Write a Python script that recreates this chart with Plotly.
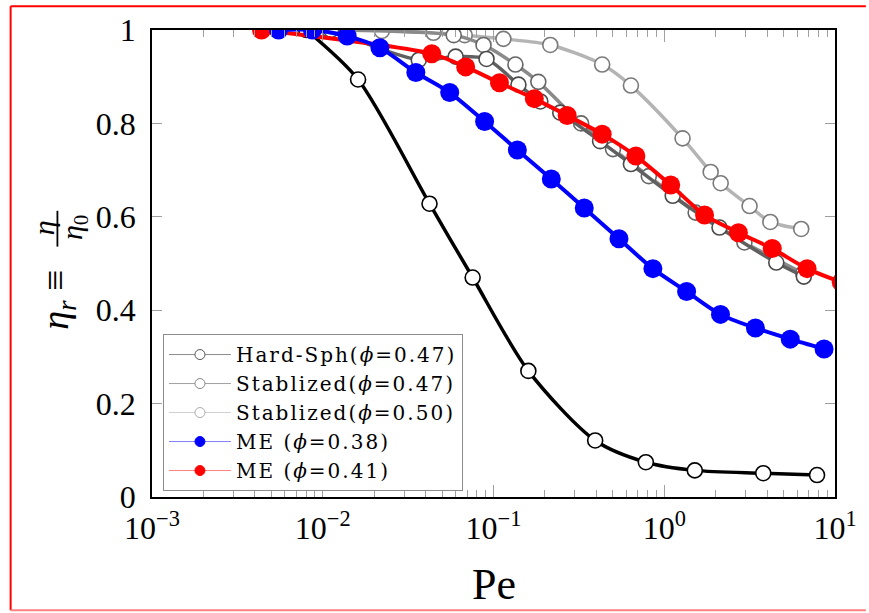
import plotly.graph_objects as go

# ---- data: reduced viscosity eta_r versus Peclet number ----
pe_curve = [0.0080, 0.0161, 0.0422, 0.0755, 0.160, 0.394, 0.780, 1.51, 3.80, 7.85]
eta_curve = [1.000, 0.894, 0.628, 0.470, 0.270, 0.121, 0.0745, 0.057, 0.051, 0.047]

pe_hs47 = [0.0112, 0.0365, 0.060, 0.091, 0.140, 0.188, 0.246, 0.421, 0.638, 1.121, 2.107, 4.53, 6.57]
eta_hs47 = [1.000, 0.936, 0.943, 0.938, 0.883, 0.847, 0.823, 0.762, 0.713, 0.645, 0.577, 0.502, 0.472]

pe_st47 = [0.0109, 0.0585, 0.0874, 0.1344, 0.183, 0.326, 0.501, 0.812, 1.527, 2.947, 6.51]
eta_st47 = [1.000, 0.989, 0.968, 0.926, 0.889, 0.800, 0.745, 0.687, 0.609, 0.545, 0.479]

pe_st50 = [0.0222, 0.0445, 0.0678, 0.1143, 0.215, 0.433, 0.638, 1.28, 1.87, 2.14, 3.16, 4.18, 6.34]
eta_st50 = [0.998, 0.994, 0.989, 0.981, 0.968, 0.926, 0.881, 0.768, 0.696, 0.672, 0.623, 0.589, 0.574]

pe_me38 = [0.00551, 0.00869, 0.0139, 0.0216, 0.0351, 0.0554, 0.0887, 0.138, 0.218, 0.340,
           0.543, 0.858, 1.352, 2.135, 3.42, 5.47, 8.63]
eta_me38 = [1.000, 1.000, 0.987, 0.962, 0.909, 0.866, 0.804, 0.743, 0.681, 0.619,
            0.553, 0.489, 0.440, 0.391, 0.362, 0.338, 0.317]

pe_me41 = [0.00438, 0.0435, 0.0687, 0.1084, 0.1734, 0.2701, 0.433, 0.682, 1.091, 1.722,
           2.719, 4.291, 6.866, 10.88]
eta_me41 = [1.000, 0.949, 0.921, 0.887, 0.853, 0.817, 0.777, 0.730, 0.668, 0.604,
            0.566, 0.532, 0.489, 0.460]

legend_names = ["Hard-Sph(<i>ϕ</i>=0.47)", "Stablized(<i>ϕ</i>=0.47)", "Stablized(<i>ϕ</i>=0.50)",
                "ME (<i>ϕ</i>=0.38)", "ME (<i>ϕ</i>=0.41)"]

x_tick_vals = [1e-3, 1e-2, 1e-1, 1e0, 1e1]
x_tick_text = ["10<sup>−3</sup>", "10<sup>−2</sup>", "10<sup>−1</sup>", "10<sup>0</sup>", "10<sup>1</sup>"]
x_minor_vals = [m * d for d in (1e-3, 1e-2, 1e-1, 1e0) for m in range(2, 10)]
y_tick_vals = [0, 0.2, 0.4, 0.6, 0.8, 1.0]
y_tick_text = ["0", "0.2", "0.4", "0.6", "0.8", "1"]

# ---- figure geometry (pixels) ----
W, H = 869, 613
L, R, T, B = 152, 838, 27, 497


def px(x):
    return (x - L) / (R - L)


def py(y):
    return (B - y) / (B - T)


SERIF = "Liberation Serif"
LEGEND_FONT = "DejaVu Serif"
fig = go.Figure()


def open_series(x, y, line_col, edge_col, lw):
    fig.add_trace(go.Scatter(
        x=x, y=y, mode="lines+markers", showlegend=False,
        line=dict(color=line_col, width=lw, shape="spline", smoothing=0.8),
        marker=dict(size=15, color="white", line=dict(color=edge_col, width=1.6)),
    ))


def filled_series(x, y, col):
    fig.add_trace(go.Scatter(
        x=x, y=y, mode="lines+markers", showlegend=False,
        line=dict(color=col, width=4, shape="spline", smoothing=0.8),
        marker=dict(size=19, color=col, line=dict(width=0)),
    ))


open_series(pe_st50, eta_st50, "#b4b4b4", "#7a7a7a", 3.5)
open_series(pe_st47, eta_st47, "#8a8a8a", "#666666", 3.5)
open_series(pe_hs47, eta_hs47, "#606060", "#4a4a4a", 3.5)
open_series(pe_curve, eta_curve, "black", "black", 3.5)
filled_series(pe_me41, eta_me41, "#ff0000")
filled_series(pe_me38, eta_me38, "#0000ff")

# legend entries (thin sample lines, small markers)
legend_styles = [
    ("#8c8c8c", "white", "#555555"),
    ("#a0a0a0", "white", "#888888"),
    ("#d0d0d0", "white", "#aaaaaa"),
    ("#8080ff", "#0000ff", "#0000ff"),
    ("#ff8080", "#ff0000", "#ff0000"),
]
for name, (lc, fc, ec) in zip(legend_names, legend_styles):
    fig.add_trace(go.Scatter(
        x=[None], y=[None], mode="lines+markers",
        name='<span style="letter-spacing:2px">' + name + "</span>",
        line=dict(color=lc, width=1),
        marker=dict(size=10, color=fc, line=dict(color=ec, width=1)),
    ))

axis_common = dict(
    showline=True, linecolor="black", linewidth=1.5, mirror="ticks",
    ticks="inside", tickcolor="#a0a0a0", tickwidth=1,
    showgrid=False, zeroline=False,
    tickfont=dict(family=SERIF, size=32, color="black"),
)

fig.update_xaxes(
    type="log", range=[-3, 1], tickvals=x_tick_vals, ticktext=x_tick_text,
    ticklen=12, ticklabelstandoff=2,
    minor=dict(ticks="inside", ticklen=7, tickcolor="#a0a0a0", tickwidth=1,
               tickvals=x_minor_vals, showgrid=False),
    **axis_common,
)
fig.update_yaxes(
    range=[0, 1], tickvals=y_tick_vals, ticktext=y_tick_text,
    ticklen=10, ticklabelstandoff=8,
    **axis_common,
)

annotations = [
    dict(x=0.5, y=py(585), text="Pe", font=dict(size=44)),
    dict(x=px(58), y=py(298), text="<i>η<sub>r</sub></i> ≡", font=dict(size=38), textangle=-90),
    dict(x=px(43), y=py(226), text="<i>η</i>", font=dict(size=30), textangle=-90),
    dict(x=px(73), y=py(226), text="<i>η</i><sub>0</sub>", font=dict(size=30), textangle=-90),
]
for a in annotations:
    a.update(xref="paper", yref="paper", showarrow=False, xanchor="center", yanchor="middle")
    a["font"].update(family=SERIF, color="black")

shapes = [
    # fraction bar of the axis title
    dict(type="line", xref="paper", yref="paper", x0=px(57), x1=px(57), y0=py(209), y1=py(245),
         line=dict(color="black", width=1.8)),
    # red frame around the figure
    dict(type="line", xref="paper", yref="paper", x0=px(10), x1=px(W), y0=py(3), y1=py(3),
         line=dict(color="#ff0000", width=2)),
    dict(type="line", xref="paper", yref="paper", x0=px(10), x1=px(10), y0=py(3), y1=py(611),
         line=dict(color="#ff0000", width=2)),
    dict(type="line", xref="paper", yref="paper", x0=px(10), x1=px(W), y0=py(611), y1=py(611),
         line=dict(color="#ff8080", width=2)),
]

fig.update_layout(
    width=W, height=H,
    margin=dict(l=L, r=W - R, t=T, b=H - B, pad=0),
    paper_bgcolor="white", plot_bgcolor="white",
    font=dict(family=SERIF, color="black"),
    showlegend=True,
    legend=dict(
        x=px(163), y=py(333), xanchor="left", yanchor="top",
        bgcolor="white", bordercolor="#8c8c8c", borderwidth=1,
        font=dict(family=LEGEND_FONT, size=20, color="black"),
        itemwidth=62, tracegroupgap=0,
    ),
    annotations=annotations,
    shapes=shapes,
)

fig.write_html("out.html")
